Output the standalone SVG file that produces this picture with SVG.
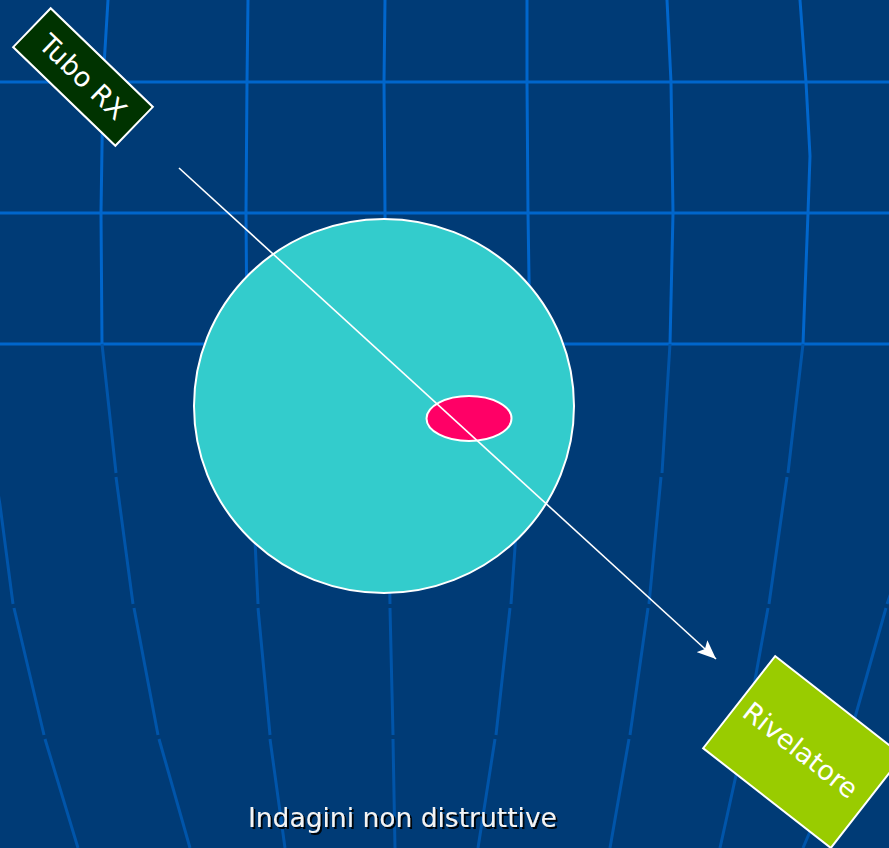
<svg xmlns="http://www.w3.org/2000/svg" width="889" height="848" viewBox="0 0 889 848">
  <style>
    .grid-top { fill: none; stroke: #0066CC; stroke-width: 3; }
    .grid-low { fill: none; stroke: #0055AA; stroke-width: 3; }
    .lbl { font-family: "DejaVu Sans", Verdana, sans-serif; fill: #FFFFFF; }
    .box { stroke: #FFFFFF; stroke-width: 2; }
  </style>
  <defs>
    <marker id="arrow" markerUnits="userSpaceOnUse" markerWidth="20" markerHeight="16" refX="19" refY="8" orient="auto">
      <path d="M0,0 L19,8 L0,16 L4,8 Z" fill="#FFFFFF"/>
    </marker>
    <filter id="shadow" x="-5%" y="-30%" width="110%" height="160%">
      <feDropShadow dx="2" dy="2" stdDeviation="0.6" flood-color="#000000" flood-opacity="0.9"/>
    </filter>
  </defs>
  <rect x="0" y="0" width="889" height="848" fill="#003B76"/>

  <g id="grid">
    <line class="grid-top" x1="0" y1="82" x2="889" y2="82"/>
    <line class="grid-top" x1="0" y1="213" x2="889" y2="213"/>
    <line class="grid-top" x1="0" y1="344" x2="889" y2="344"/>
    <polyline class="grid-top" points="108,0 103,82 101,213 102,344"/>
    <polyline class="grid-top" points="248,0 247,82 246,213 247,344"/>
    <polyline class="grid-top" points="385,0 384,82 385,213 386,344"/>
    <polyline class="grid-top" points="527,0 527,82 528,213 530,344"/>
    <polyline class="grid-top" points="667,0 671,82 673,213 670,344"/>
    <polyline class="grid-top" points="800,0 806,82 810,156 808,213 803,344"/>

    <path class="grid-low" d="M-4,480 L0,505 L13,604 M14,608 L44,735 M45,739 L78,848"/>
    <path class="grid-low" d="M102,344 L116,473 M116,477 L133,604 M134,608 L158,735 M159,739 L190,848"/>
    <path class="grid-low" d="M247,344 L252,473 M252,477 L258,604 M258,608 L270,735 M270,739 L285,848"/>
    <path class="grid-low" d="M386,344 L390,604 M390,608 L393,735 M393,739 L395,848"/>
    <path class="grid-low" d="M530,344 L520,473 M520,477 L511,604 M510,608 L496,735 M495,739 L478,848"/>
    <path class="grid-low" d="M670,344 L662,473 M661,477 L649,604 M648,608 L630,735 M629,739 L610,848"/>
    <path class="grid-low" d="M803,344 L788,473 M787,477 L769,604 M768,608 L745,735 M744,739 L720,848"/>
    <path class="grid-low" d="M892,590 L887,604 M886,608 L850,735 M849,739 L803,848"/>
  </g>

  <g id="object">
    <ellipse cx="384" cy="406" rx="190" ry="187" fill="#33CCCC" stroke="#FFFFFF" stroke-width="2"/>
  </g>
  <g id="defect">
    <ellipse cx="469" cy="418.5" rx="42.5" ry="22.5" fill="#FF0066" stroke="#FFFFFF" stroke-width="2"/>
  </g>

  <g id="connectors">
    <line x1="179" y1="168" x2="716" y2="659" stroke="#FFFFFF" stroke-width="1.6" marker-end="url(#arrow)"/>
  </g>

  <g id="tubo-rx" transform="translate(83,77) rotate(44)">
    <rect class="box" x="-71" y="-27" width="142" height="54" fill="#003300"/>
    <text class="lbl" x="0" y="9.5" font-size="27" text-anchor="middle">Tubo RX</text>
  </g>

  <g id="rivelatore" transform="translate(803,752) rotate(38)">
    <rect class="box" x="-81" y="-58.5" width="162" height="117" fill="#99CC00"/>
    <text class="lbl" x="-3" y="9.5" font-size="27" text-anchor="middle">Rivelatore</text>
  </g>

  <g id="caption">
    <text x="248" y="827" font-family="DejaVu Sans, Verdana, sans-serif" font-size="26.5" fill="#F4F4F4" filter="url(#shadow)">Indagini non distruttive</text>
  </g>
</svg>
